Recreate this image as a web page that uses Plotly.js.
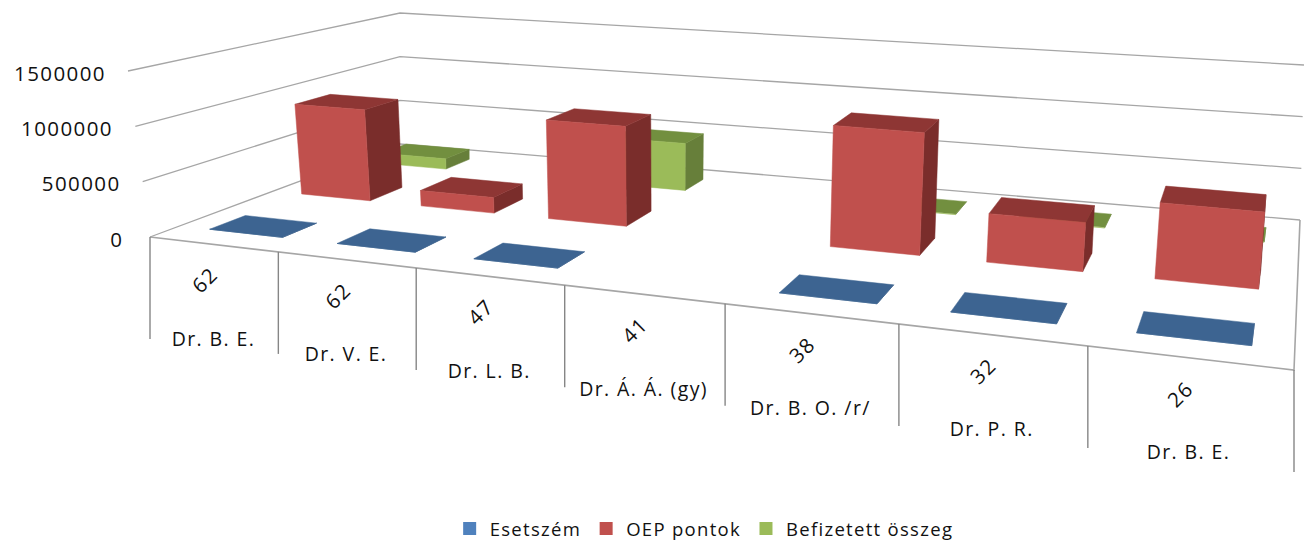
<!DOCTYPE html>
<html><head><meta charset="utf-8">
<script src="https://cdn.plot.ly/plotly-3.0.1.min.js"></script>
<style>
html,body{margin:0;padding:0;background:#fff;width:1304px;height:543px;overflow:hidden}
#chart{width:1304px;height:553px}
.annotation-text-g text{letter-spacing:1.4px}
.legendtext{letter-spacing:1.3px}
</style></head><body><div id="chart"></div>
<script>
// ---- data ----
const doctors = ["Dr. B. E.","Dr. V. E.","Dr. L. B.","Dr. Á. Á. (gy)","Dr. B. O. /r/","Dr. P. R.","Dr. B. E."];
const caseLabels = [62,62,47,41,38,32,26];
const esetszam = [62,62,47,null,38,32,26];
const oepPontok = [900000,150000,940000,null,1100000,430000,660000];
const befizetett = [110000,null,480000,null,6000,6000,6000];
const valueTicks = [0,500000,1000000,1500000];
const seriesNames = ["Esetszém","OEP pontok","Befizetett összeg"];
// ---- style / view ----
const legendColors = ["#4f81bd","#c0504d","#9bbb59"];
const faceColors = {
  0:{front:"#3d6491",top:"#3d6491",side:"#30507a"},
  1:{front:"#c0504d",top:"#8e3634",side:"#7a2d2b"},
  2:{front:"#9bbb59",top:"#728f3f",side:"#677f3a"}
};
const rows = [[0.11,0.235],[0.45,0.59],[0.80,0.92]];
const barSpan = [0.21,0.79];
const vMax = 1500000;
const floorQuad = [[150,237],[1294,370],[1300,220],[400,144]]; // front-left, front-right, back-right, back-left
const barQuad   = floorQuad.map(p=>[p[0],p[1]+2]);
const topQuad   = [[128,71],[1322,175],[1304,65],[400,13]];
const nCat = doctors.length;

function quadMap(q){
  const [[x0,y0],[x1,y1],[x2,y2],[x3,y3]] = q;
  const dx1=x1-x2,dx2=x3-x2,dy1=y1-y2,dy2=y3-y2;
  const sx=x0-x1+x2-x3, sy=y0-y1+y2-y3;
  const den=dx1*dy2-dx2*dy1;
  const g=(sx*dy2-dx2*sy)/den, h=(dx1*sy-sx*dy1)/den;
  const a=x1-x0+g*x1,b=x3-x0+h*x3,c=x0,d=y1-y0+g*y1,e=y3-y0+h*y3,f=y0;
  return (u,v)=>{const w=g*u+h*v+1;return [(a*u+b*v+c)/w,(d*u+e*v+f)/w];};
}
const floorMap = quadMap(floorQuad), topMap = quadMap(topQuad), barMap = quadMap(barQuad);
// wall lines: exact plane to plane
function project(cat,depth,val){
  const p=floorMap(cat/nCat,depth), t=topMap(cat/nCat,depth), k=val/vMax;
  return [p[0]+(t[0]-p[0])*k, p[1]+(t[1]-p[1])*k];
}
// bars: floor position plus a height vector with a gentle lean
function projectBar(cat,depth,val){
  const u=cat/nCat, p=barMap(u,depth), f=floorMap(u,depth), t=topMap(u,depth), k=val/vMax;
  const lean=((-22*(1-u)+24*u)*(1-depth)+(0*(1-u)+4*u)*depth);
  return [p[0]+lean*k, p[1]+(t[1]-f[1])*k];
}
const traces=[];
function poly(pts,color){
  const xs=pts.map(p=>p[0]),ys=pts.map(p=>p[1]);
  xs.push(xs[0]);ys.push(ys[0]);
  traces.push({type:"scatter",mode:"lines",x:xs,y:ys,fill:"toself",fillcolor:color,
    line:{color:color,width:0.5},hoverinfo:"skip",showlegend:false});
}
function line(pts,color,w){
  traces.push({type:"scatter",mode:"lines",x:pts.map(p=>p[0]),y:pts.map(p=>p[1]),
    line:{color:color,width:w},hoverinfo:"skip",showlegend:false});
}
const area=p=>{let s=0;for(let i=0;i<p.length;i++){const a=p[i],b=p[(i+1)%p.length];s+=a[0]*b[1]-b[0]*a[1];}return s/2;};

// walls and floor
const grid="#a6a6a6";
valueTicks.forEach(v=>{
  line([project(0,0,v),project(0,1,v),project(nCat,1,v)],grid,1.3);
});
line([project(0,0,0),project(nCat,0,0),project(nCat,1,0)],grid,1.6);
// category separators
const tick="#868686";
for(let i=0;i<=nCat;i++){
  const p=project(i,0,0);
  line([p,[p[0],p[1]+102]],tick,1.4);
}
// bars, back row first
function bar(s,i,val){
  if(val===null) return;
  const [d0,d1]=rows[s], u0=i+barSpan[0],u1=i+barSpan[1], c=faceColors[s];
  const P=projectBar;
  const right=[P(u1,d0,0),P(u1,d1,0),P(u1,d1,val),P(u1,d0,val)];
  if(area(right)<0) poly(right,c.side);
  poly([P(u0,d0,val),P(u1,d0,val),P(u1,d1,val),P(u0,d1,val)],c.top);
  poly([P(u0,d0,0),P(u1,d0,0),P(u1,d0,val),P(u0,d0,val)],c.front);
}
const seriesData=[esetszam,oepPontok,befizetett];
for(let s=2;s>=0;s--){ for(let i=0;i<nCat;i++) bar(s,i,seriesData[s][i]); }
// legend keys
seriesNames.forEach((n,s)=>traces.push({type:"scatter",mode:"markers",x:[-50],y:[-50],name:n,
  marker:{symbol:"square",size:13,color:legendColors[s]},hoverinfo:"skip"}));

// text
const fontFamily="Open Sans, sans-serif";
const font={family:fontFamily,size:19.5,color:"#111"};
const tickFont={family:fontFamily,size:20.5,color:"#111"};
const annotations=[];
valueTicks.forEach(v=>{
  const p=project(0,0,v);
  annotations.push({x:p[0]-25,y:p[1]+1.5,xref:"x",yref:"y",text:String(v),showarrow:false,xanchor:"right",yanchor:"middle",font:tickFont});
});
doctors.forEach((n,i)=>{
  const p=project(i+0.5,0,0);
  annotations.push({x:p[0]-9,y:p[1]+36,xref:"x",yref:"y",text:String(caseLabels[i]),textangle:-45,showarrow:false,font:tickFont});
  annotations.push({x:p[0],y:p[1]+94,xref:"x",yref:"y",text:n,showarrow:false,font});
});
const layout={width:1304,height:553,margin:{l:0,r:0,t:0,b:10},paper_bgcolor:"#fff",plot_bgcolor:"#fff",
  xaxis:{range:[0,1304],visible:false,fixedrange:true},
  yaxis:{range:[543,0],visible:false,fixedrange:true},
  legend:{orientation:"h",x:0.54,xanchor:"center",y:0.026,yanchor:"middle",font:{family:fontFamily,size:18.5,color:"#111"},itemclick:false},
  annotations,showlegend:true};
Plotly.newPlot("chart",traces,layout,{displayModeBar:false,staticPlot:true});
</script></body></html>
